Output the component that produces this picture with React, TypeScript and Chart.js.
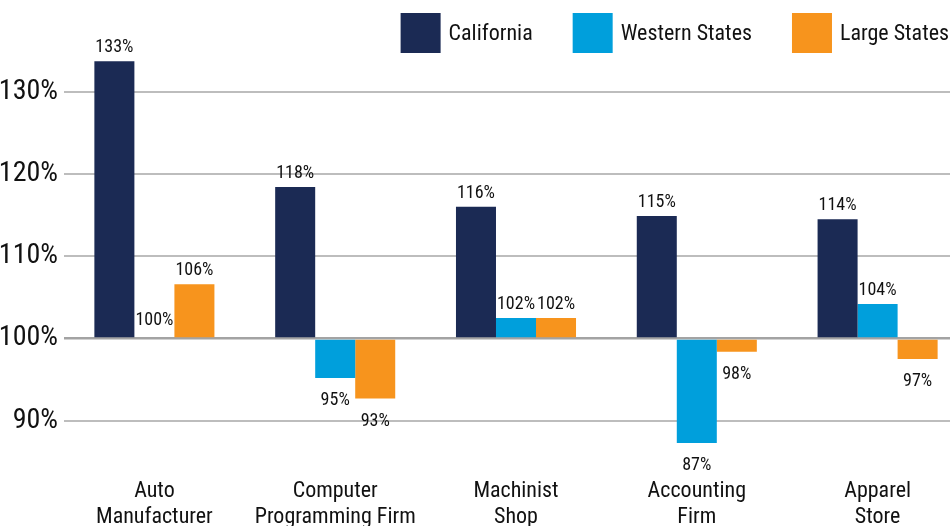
import React, { useEffect, useRef } from "react";
import { Chart, registerables } from "chart.js";

Chart.register(...registerables);

const categories: string[][] = [
  ["Auto", "Manufacturer"],
  ["Computer", "Programming Firm"],
  ["Machinist", "Shop"],
  ["Accounting", "Firm"],
  ["Apparel", "Store"],
];

const seriesNames = ["California", "Western States", "Large States"];
const seriesColors = ["#1b2a54", "#009fdc", "#f7941d"];

const californiaValues = [133.7, 118.4, 116.0, 114.9, 114.5];
const westernValues = [100.0, 95.2, 102.5, 87.3, 104.2];
const largeValues = [106.6, 92.7, 102.5, 98.4, 97.5];

const californiaLabels = ["133%", "118%", "116%", "115%", "114%"];
const westernLabels = ["100%", "95%", "102%", "87%", "104%"];
const largeLabels = ["106%", "93%", "102%", "98%", "97%"];

const baseValue = 100;
const yTicks = [90, 100, 110, 120, 130];

const FONT = "'Liberation Sans Narrow', 'Roboto Condensed', 'DejaVu Sans Condensed', sans-serif";

const legendPlugin = {
  id: "customLegend",
  afterDraw(chart: any) {
    const ctx = chart.ctx;
    const right = 949;
    const top = 13;
    const box = 40;
    const textGap = 8;
    const itemGap = 40;
    ctx.save();
    ctx.font = `22px ${FONT}`;
    const items = chart.data.datasets.map((d: any) => ({
      text: d.label,
      color: d.backgroundColor,
      w: box + textGap + ctx.measureText(d.label).width,
    }));
    const total = items.reduce((s: number, it: any) => s + it.w, 0) + itemGap * (items.length - 1);
    let x = right - total;
    ctx.textBaseline = "middle";
    ctx.textAlign = "left";
    for (const it of items) {
      ctx.fillStyle = it.color;
      ctx.fillRect(x, top, box, box);
      ctx.fillStyle = "#111111";
      ctx.fillText(it.text, x + box + textGap, top + box / 2 + 1);
      x += it.w + itemGap;
    }
    ctx.restore();
  },
};

const labelPlugin = {
  id: "barLabels",
  afterDatasetsDraw(chart: any) {
    const ctx = chart.ctx;
    ctx.save();
    ctx.font = `18px ${FONT}`;
    ctx.fillStyle = "#111111";
    ctx.textAlign = "center";
    ctx.textBaseline = "alphabetic";
    chart.data.datasets.forEach((ds: any, di: number) => {
      const meta = chart.getDatasetMeta(di);
      meta.data.forEach((el: any, i: number) => {
        const v = ds.data[i];
        const txt = ds.valueLabels[i];
        if (v > baseValue) {
          ctx.fillText(txt, el.x, Math.min(el.y, el.base) - 9);
        } else if (v === baseValue) {
          ctx.fillText(txt, el.x, el.base - 13);
        } else {
          ctx.fillText(txt, el.x, Math.max(el.y, el.base) + 27);
        }
      });
    });
    ctx.restore();
  },
};

export default function App() {
  const ref = useRef<HTMLCanvasElement | null>(null);

  useEffect(() => {
    if (!ref.current) return;
    const values = [californiaValues, westernValues, largeValues];
    const labels = [californiaLabels, westernLabels, largeLabels];
    const chart = new Chart(ref.current, {
      type: "bar",
      data: {
        labels: categories,
        datasets: seriesNames.map((name, i) => ({
          label: name,
          data: values[i],
          valueLabels: labels[i],
          backgroundColor: seriesColors[i],
          base: baseValue,
          borderWidth: 0,
          categoryPercentage: 0.664,
          barPercentage: 1,
        })) as any,
      },
      options: {
        responsive: false,
        animation: false,
        layout: { padding: { top: 20, left: 0, right: 0, bottom: 0 } },
        plugins: {
          legend: { display: false },
          tooltip: { enabled: false },
        },
        scales: {
          x: {
            grid: { display: false, drawTicks: false },
            border: { display: false },
            ticks: {
              font: { family: FONT, size: 22, lineHeight: 1.18 },
              color: "#111111",
              padding: 19,
              maxRotation: 0,
              autoSkip: false,
            },
            afterFit: (s: any) => {
              s.height = 66;
            },
          },
          y: {
            min: 85.23,
            max: 138.37,
            afterBuildTicks: (s: any) => {
              s.ticks = yTicks.map((v) => ({ value: v }));
            },
            grid: {
              drawTicks: false,
              color: (c: any) => (c.tick && c.tick.value === baseValue ? "#a3a3a3" : "#bdbdbd"),
              lineWidth: (c: any) => (c.tick && c.tick.value === baseValue ? 2.5 : 2),
            },
            border: { display: false },
            ticks: {
              font: { family: FONT, size: 28 },
              color: "#111111",
              padding: 6,
              callback: (v: any) => `${v}%`,
            },
            afterFit: (s: any) => {
              s.width = 64;
            },
          },
        },
      },
      plugins: [labelPlugin, legendPlugin],
    });
    return () => chart.destroy();
  }, []);

  return (
    <div
      style={{
        position: "fixed",
        left: 0,
        top: 0,
        width: 950,
        height: 526,
        overflow: "hidden",
        background: "#ffffff",
      }}
    >
      <canvas ref={ref} width={968} height={526} style={{ display: "block" }} />
    </div>
  );
}
